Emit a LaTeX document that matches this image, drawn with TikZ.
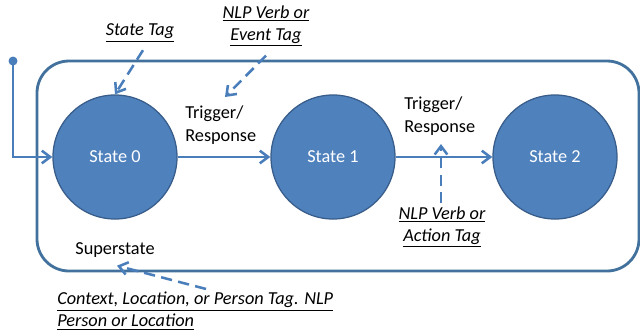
\documentclass[tikz,border=0pt]{standalone}
\usepackage{fontspec}
\setmainfont{Carlito}
\usetikzlibrary{arrows.meta}

\definecolor{stateblue}{HTML}{4F81BD}
\definecolor{stateedge}{HTML}{385D8A}
\definecolor{lineblue}{HTML}{4A7EBB}
\definecolor{boxblue}{HTML}{41719C}

\begin{document}
\begin{tikzpicture}[x=0.025cm, y=-0.025cm,
  every node/.style={font=\fontsize{13}{16.3}\selectfont, inner sep=0pt},
  state/.style={circle, fill=stateblue, draw=stateedge, line width=0.9pt, minimum size=3.1cm, text=white},
  flow/.style={lineblue, line width=1.8pt, -{Straight Barb[length=6pt,width=9pt]}},
  tagarrow/.style={lineblue, line width=1.8pt, dash pattern=on 8pt off 4.5pt, -{Straight Barb[length=6pt,width=9pt]}},
  tag/.style={font=\fontsize{13}{15.6}\selectfont\itshape, align=center},
  lbl/.style={align=left}]

\useasboundingbox (0,0) rectangle (640,332);

\draw[boxblue, line width=2pt, rounded corners=0.8cm] (37,61) rectangle (639,271);

\node[state] (s0) at (115,157) {State 0};
\node[state] (s1) at (333,157) {State 1};
\node[state] (s2) at (555,157) {State 2};

\coordinate (start) at (13,61);
\fill[lineblue] (start) circle (3.2pt);

\draw[flow] (start) |- (s0);
\draw[flow] (s0) -- (s1);
\draw[flow] (s1) -- (s2);

\node[lbl, anchor=west] (trig0) at (185,125) {Trigger/\\Response};
\node[lbl, anchor=west] (trig1) at (404,116) {Trigger/\\Response};
\node[lbl] (super) at (115,250) {Superstate};

\node[tag] (tag0) at (140,33) {\underline{State Tag}};
\node[tag] (tag1) at (266,26) {\underline{NLP Verb or}\\\underline{Event Tag}};
\node[tag] (tag2) at (442,227) {\underline{NLP Verb or}\\\underline{Action Tag}};
\node[tag, anchor=west, align=left] (tag3) at (57,311) {\underline{Context, Location, or Person Tag. NLP}\\\underline{Person or Location}};

\coordinate (e1) at (225,97);
\coordinate (e2) at (441,144);

\draw[tagarrow] ([shift={(3,8)}]tag0.south) -- (s0.north);
\draw[tagarrow] ([shift={(0,9)}]tag1.south) -- (e1);
\draw[tagarrow] ([shift={(-1,-3)}]tag2.north) -- (e2);
\draw[tagarrow] ([shift={(149,-3)}]tag3.north west) -- ([shift={(2,8)}]super.south);

\end{tikzpicture}
\end{document}
